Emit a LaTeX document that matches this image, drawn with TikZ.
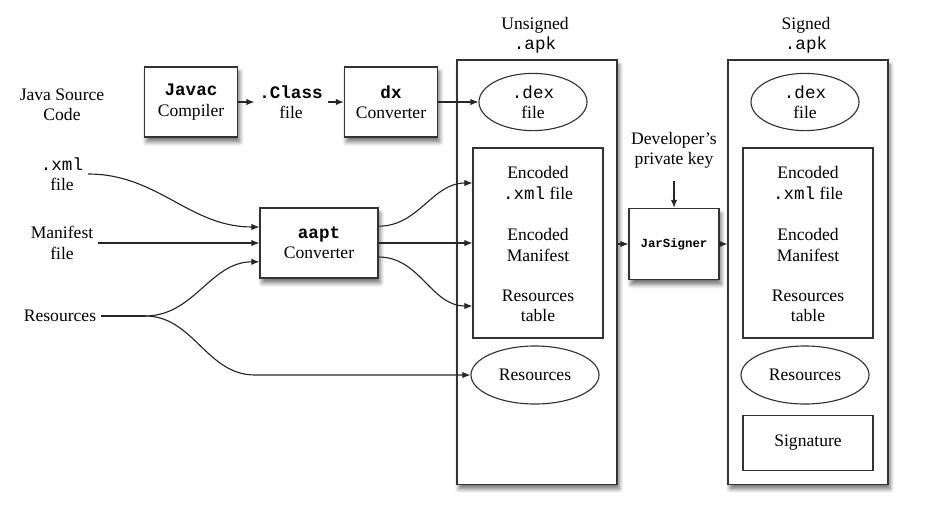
\documentclass[tikz,border=0pt]{standalone}
\usepackage{fontspec}
\setmainfont{Liberation Serif}
\setmonofont{Liberation Mono}
\usetikzlibrary{shapes.geometric, arrows.meta, positioning, shadows, shadows.blur}

\begin{document}
\begin{tikzpicture}[x=0.025cm, y=-0.025cm, font=\fontsize{12.5}{14.5}\selectfont]
    \tikzstyle{tool} = [rectangle, draw=black!80, fill=white, thick, align=center, minimum height=1.75cm, blur shadow={shadow xshift=1.5pt, shadow yshift=-3.5pt, shadow blur steps=6, shadow blur radius=3pt, shadow opacity=55}]
    \tikzstyle{apk} = [rectangle, draw=black!80, fill=white, thick, minimum width=4cm, minimum height=10.6cm, blur shadow={shadow xshift=1.5pt, shadow yshift=-3.5pt, shadow blur steps=6, shadow blur radius=3pt, shadow opacity=55}]
    \tikzstyle{part} = [rectangle, draw=black!80, thick, minimum width=3.25cm, align=center]
    \tikzstyle{blob} = [ellipse, draw=black!80, thick, align=center, inner sep=0pt]
    \tikzstyle{lbl} = [align=center]
    \tikzstyle{arr} = [-{Latex[length=2mm, width=1.6mm]}, thick, black!85]

    \useasboundingbox (0,0) rectangle (926,520);

    \node (unsigned) [apk] at (537,272) {};
    \node (signed) [apk] at (808,272) {};
    \node (ulbl) [lbl] at (535,35) {Unsigned\\\texttt{.apk}};
    \node (slbl) [lbl] at (806,35) {Signed\\\texttt{.apk}};

    \node (dexu) [blob, minimum width=2.7cm, minimum height=1.43cm] at (533,102) {\texttt{.dex}\\file};
    \node (dexs) [blob, minimum width=2.7cm, minimum height=1.43cm] at (805,102) {\texttt{.dex}\\file};
    \node (inu) [part, minimum height=4.75cm] at (538,243) {};
    \node (ins) [part, minimum height=4.75cm] at (808,243) {};
    \node (encx) [lbl] at (538,183) {Encoded\\\texttt{.xml} file};
    \node (encm) [lbl] at (538,245) {Encoded\\Manifest};
    \node (rtab) [lbl] at (538,306) {Resources\\table};
    \node (encxs) [lbl] at (808,183) {Encoded\\\texttt{.xml} file};
    \node (encms) [lbl] at (808,245) {Encoded\\Manifest};
    \node (rtabs) [lbl] at (808,306) {Resources\\table};
    \node (resu) [blob, minimum width=3.2cm, minimum height=1.45cm] at (535,375) {Resources};
    \node (ress) [blob, minimum width=3.2cm, minimum height=1.45cm] at (805,375) {Resources};
    \node (sig) [part, minimum height=1.38cm] at (808,443) {Signature};

    \node (src) [lbl] at (62,105) {Java Source\\Code};
    \node (javac) [tool, minimum width=2.33cm] at (191,102) {\textbf{\texttt{Javac}}\\Compiler};
    \node (cls) [lbl] at (291,102) {\textbf{\texttt{.Class}}\\file};
    \node (dx) [tool, minimum width=2.33cm] at (391,102) {\textbf{\texttt{dx}}\\Converter};

    \node (xmlf) [lbl] at (62,174) {\texttt{.xml}\\file};
    \node (manf) [lbl] at (62,243) {Manifest\\file};
    \node (resl) [lbl] at (60,316) {Resources};
    \node (aapt) [tool, minimum width=2.95cm] at (319,243) {\textbf{\texttt{aapt}}\\Converter};

    \node (key) [lbl] at (674,150) {Developer's\\private key};
    \node (jar) [tool, minimum width=2.25cm, minimum height=1.78cm, font=\fontsize{8.8}{10}\selectfont\ttfamily\bfseries] at (674,244) {JarSigner};

    \draw[arr] (javac) -- (cls);
    \draw[arr] (cls) -- (dx);
    \draw[arr] (dx) -- (dexu);

    \draw[arr] (xmlf.east) to[out=0, in=180] ([yshift=0.4cm]aapt.west);
    \draw[arr] (manf) -- (aapt);
    \coordinate (split) at (145,316);
    \coordinate (bend) at (255,375);
    \draw[thick, black!85] (resl.east) -- (split);
    \draw[arr] (split) to[out=0, in=180] ([yshift=-0.47cm]aapt.west);
    \draw[arr] (split) to[out=0, in=180] (bend) -- (resu.west);

    \draw[arr] ([yshift=0.42cm]aapt.east) to[out=0, in=180] (inu.west |- encx);
    \draw[arr] (aapt) -- (inu.west |- aapt);
    \draw[arr] ([yshift=-0.35cm]aapt.east) to[out=0, in=180] (inu.west |- rtab);

    \draw[arr] (unsigned.east |- jar) -- (jar.west);
    \draw[arr] (jar.east) -- (signed.west |- jar);
    \draw[arr, shorten <=0.2cm] (key) -- (jar);
\end{tikzpicture}
\end{document}
